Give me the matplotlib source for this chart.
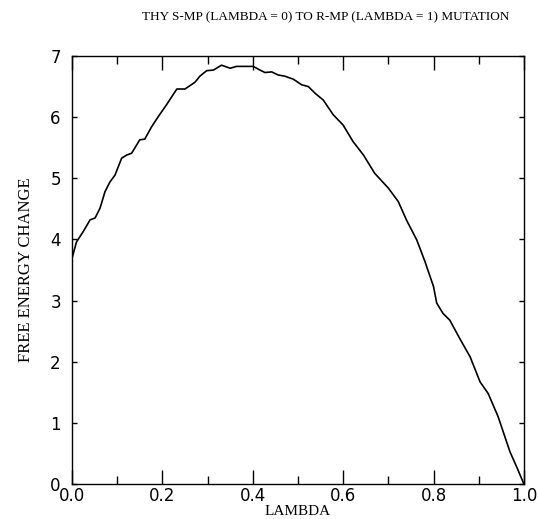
import matplotlib
matplotlib.use("Agg")
import matplotlib.pyplot as plt
from matplotlib.ticker import MultipleLocator, FormatStrFormatter

lam = [0.000, 0.010, 0.025, 0.040, 0.051, 0.062, 0.073, 0.084, 0.095, 0.110,
       0.121, 0.132, 0.150, 0.161, 0.176, 0.191, 0.209, 0.232, 0.250, 0.272,
       0.283, 0.298, 0.313, 0.331, 0.350, 0.364, 0.386, 0.401, 0.416, 0.427,
       0.442, 0.456, 0.471, 0.490, 0.508, 0.523, 0.538, 0.556, 0.578, 0.600,
       0.622, 0.645, 0.670, 0.700, 0.722, 0.740, 0.763, 0.781, 0.800, 0.807,
       0.821, 0.836, 0.858, 0.881, 0.903, 0.921, 0.943, 0.969, 0.984, 1.000]
dg = [3.69, 3.96, 4.13, 4.32, 4.35, 4.51, 4.78, 4.94, 5.05, 5.33,
      5.38, 5.41, 5.63, 5.64, 5.84, 6.01, 6.20, 6.46, 6.46, 6.57,
      6.67, 6.76, 6.77, 6.85, 6.80, 6.83, 6.83, 6.83, 6.77, 6.73,
      6.74, 6.69, 6.67, 6.62, 6.53, 6.50, 6.39, 6.28, 6.04, 5.87,
      5.60, 5.38, 5.08, 4.84, 4.62, 4.32, 3.99, 3.64, 3.23, 2.96,
      2.79, 2.68, 2.38, 2.08, 1.67, 1.48, 1.10, 0.53, 0.28, 0.00]

title = "THY S-MP (LAMBDA = 0) TO R-MP (LAMBDA = 1) MUTATION"
xlabel = "LAMBDA"
ylabel = "FREE ENERGY CHANGE"

fig = plt.figure(figsize=(5.38, 5.19), dpi=100)
ax = fig.add_axes([0.1338, 0.0674, 0.840, 0.8247])
ax.plot(lam, dg, color="black", lw=1.2)
ax.set_xlim(0, 1)
ax.set_ylim(0, 7)
ax.xaxis.set_major_locator(MultipleLocator(0.2))
ax.xaxis.set_minor_locator(MultipleLocator(0.1))
ax.yaxis.set_major_locator(MultipleLocator(1))
ax.xaxis.set_major_formatter(FormatStrFormatter("%.1f"))
ax.tick_params(axis="x", which="major", direction="in", length=10, width=1, top=True,
               labelsize=12, pad=2)
ax.tick_params(axis="x", which="minor", direction="in", length=6, width=1, top=True)
ax.tick_params(axis="y", which="major", direction="in", length=3.5, width=1, right=True,
               labelsize=12, pad=8)
for s in ax.spines.values():
    s.set_linewidth(1.0)
ax.set_xlabel(xlabel, family="Liberation Serif", fontsize=11, labelpad=0.0)
ax.set_ylabel(ylabel, family="Liberation Serif", fontsize=12, labelpad=12)
fig.text(0.606, 0.967, title, family="Liberation Serif", fontsize=9.5,
         ha="center", va="center")
fig.canvas.draw()
ylabels = ax.get_yticklabels()
ylabels[0].set_verticalalignment("bottom")
fig.savefig("out.png", dpi=100)
